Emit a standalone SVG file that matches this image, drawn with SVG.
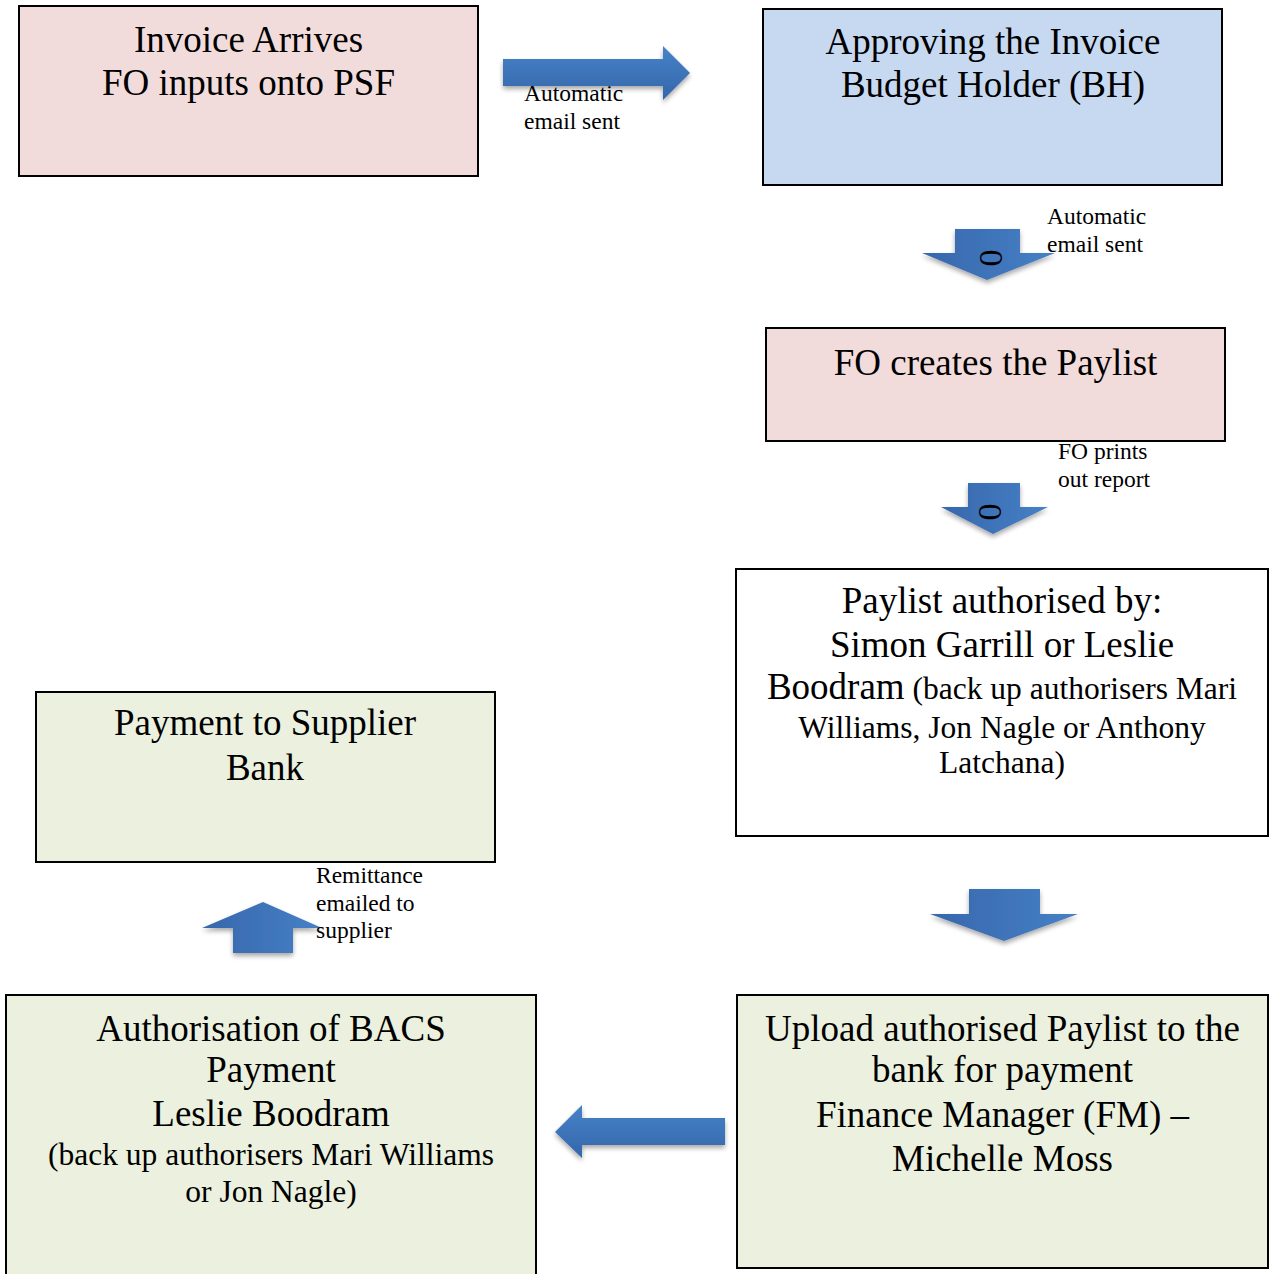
<svg xmlns="http://www.w3.org/2000/svg" width="1272" height="1274" viewBox="0 0 1272 1274">
<defs>
<linearGradient id="gv" x1="0" y1="0" x2="1" y2="0">
<stop offset="0" stop-color="#3767AC"/>
<stop offset="1" stop-color="#4680C6"/>
</linearGradient>
<linearGradient id="gh" x1="0" y1="0" x2="0" y2="1">
<stop offset="0" stop-color="#4682C8"/>
<stop offset="1" stop-color="#3566AA"/>
</linearGradient>
<filter id="sh" x="-20%" y="-20%" width="140%" height="160%">
<feGaussianBlur in="SourceAlpha" stdDeviation="2.5"/>
<feOffset dx="0" dy="3" result="b"/>
<feComponentTransfer><feFuncA type="linear" slope="0.35"/></feComponentTransfer>
<feMerge><feMergeNode/><feMergeNode in="SourceGraphic"/></feMerge>
</filter>
</defs>
<style>
.box{stroke:#000;stroke-width:2}
.pink{fill:#F2DCDB}
.blue{fill:#C6D9F1}
.green{fill:#EBF1DE}
.white{fill:#FFFFFF}
.t{font-family:"Liberation Serif","Times New Roman",serif;font-size:37px;fill:#000;text-anchor:middle}
.s{font-family:"Liberation Serif","Times New Roman",serif;font-size:31.5px;fill:#000;text-anchor:middle}
.l{font-family:"Liberation Serif","Times New Roman",serif;font-size:23.5px;fill:#000}
.av{fill:url(#gv);filter:url(#sh)}
.ah{fill:url(#gh);filter:url(#sh)}
.z{font-family:"Liberation Serif","Times New Roman",serif;font-size:34px;fill:#000;text-anchor:middle}
</style>

<g id="connectors">
<g id="arrow1">
<path class="ah" d="M503,59 L663,59 L663,46 L690,73 L663,100 L663,86 L503,86 Z"/>
<text class="l" x="524" y="101">Automatic</text>
<text class="l" x="524" y="129">email sent</text>
</g>
<g id="arrow2">
<path class="av" d="M955,229 L1020,229 L1020,253 L1055,253 L987,280 L922,253 L955,253 Z"/>
<text class="z" transform="translate(991,258) rotate(90)" y="11.5">0</text>
<text class="l" x="1047" y="224">Automatic</text>
<text class="l" x="1047" y="252">email sent</text>
</g>
<g id="arrow3">
<path class="av" d="M968,483 L1020,483 L1020,507 L1048,507 L993,534 L941,507 L968,507 Z"/>
<text class="z" transform="translate(990,512) rotate(90)" y="11.5">0</text>
<text class="l" x="1058" y="459">FO prints</text>
<text class="l" x="1058" y="487">out report</text>
</g>
<g id="arrow4">
<path class="av" d="M969,889 L1040,889 L1040,914 L1078,914 L1004,941 L930,914 L969,914 Z"/>
</g>
<g id="arrow5">
<path class="ah" d="M725,1118 L582,1118 L582,1105 L555,1132 L582,1158 L582,1145 L725,1145 Z"/>
</g>
<g id="arrow6">
<path class="av" d="M233,953 L233,928 L202,928 L263,902 L322,928 L293,928 L293,953 Z"/>
<text class="l" x="316" y="883">Remittance</text>
<text class="l" x="316" y="911">emailed to</text>
<text class="l" x="316" y="938">supplier</text>
</g>
</g>

<g id="node-invoice">
<rect class="box pink" x="19" y="6" width="459" height="170"/>
<text class="t" x="248.5" y="52">Invoice Arrives</text>
<text class="t" x="248.5" y="95">FO inputs onto PSF</text>
</g>

<g id="node-approve">
<rect class="box blue" x="763" y="9" width="459" height="176"/>
<text class="t" x="993" y="54">Approving the Invoice</text>
<text class="t" x="993" y="97">Budget Holder (BH)</text>
</g>

<g id="node-paylist">
<rect class="box pink" x="766" y="328" width="459" height="113"/>
<text class="t" x="995.5" y="375">FO creates the Paylist</text>
</g>

<g id="node-authorised">
<rect class="box white" x="736" y="569" width="532" height="267"/>
<text class="t" x="1002" y="613">Paylist authorised by:</text>
<text class="t" x="1002" y="657">Simon Garrill or Leslie</text>
<text class="s" x="1002" y="699"><tspan font-size="37">Boodram</tspan> (back up authorisers Mari</text>
<text class="s" x="1002" y="738">Williams, Jon Nagle or Anthony</text>
<text class="s" x="1002" y="773">Latchana)</text>
</g>

<g id="node-payment">
<rect class="box green" x="36" y="692" width="459" height="170"/>
<text class="t" x="265" y="735">Payment to Supplier</text>
<text class="t" x="265" y="780">Bank</text>
</g>

<g id="node-bacs">
<rect class="box green" x="6" y="995" width="530" height="290"/>
<text class="t" x="271" y="1041">Authorisation of BACS</text>
<text class="t" x="271" y="1082">Payment</text>
<text class="t" x="271" y="1126">Leslie Boodram</text>
<text class="s" x="271" y="1165">(back up authorisers Mari Williams</text>
<text class="s" x="271" y="1202">or Jon Nagle)</text>
</g>

<g id="node-upload">
<rect class="box green" x="737" y="995" width="531" height="273"/>
<text class="t" x="1002.5" y="1041">Upload authorised Paylist to the</text>
<text class="t" x="1002.5" y="1082">bank for payment</text>
<text class="t" x="1002.5" y="1127">Finance Manager (FM) –</text>
<text class="t" x="1002.5" y="1171">Michelle Moss</text>
</g>
</svg>
